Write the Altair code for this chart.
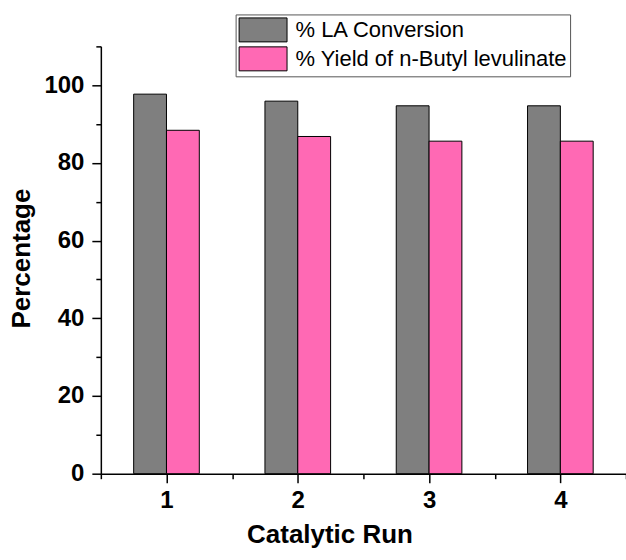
import altair as alt
import pandas as pd

runs = [1, 2, 3, 4]
la_conversion = [97.7, 95.9, 94.7, 94.7]
butyl_yield = [88.4, 86.8, 85.6, 85.6]
series_names = ["% LA Conversion", "% Yield of n-Butyl levulinate"]
series_colors = ["#7f7f7f", "#ff69b4"]
x_tick_values = [0.5, 1, 1.5, 2, 2.5, 3, 3.5, 4, 4.5]
y_tick_values = [0, 10, 20, 30, 40, 50, 60, 70, 80, 90, 100, 110]

rows = []
for r, a, b in zip(runs, la_conversion, butyl_yield):
    rows.append({"Run": r, "Series": series_names[0], "Value": a, "Order": 0})
    rows.append({"Run": r, "Series": series_names[1], "Value": b, "Order": 1})
df = pd.DataFrame(rows)

FONT = "Liberation Sans"
TICK_FONT = "'Liberation Sans Narrow', 'Liberation Sans', Arial, sans-serif"

chart = (
    alt.Chart(df)
    .transform_calculate(
        x0="datum.Run - 0.25 + datum.Order * 0.25",
        x1="datum.Run + datum.Order * 0.25",
    )
    .mark_rect(stroke="black", strokeWidth=1, opacity=1)
    .encode(
        x=alt.X(
            "x0:Q",
            scale=alt.Scale(domain=[0.5, 4.5], nice=False, zero=False),
            axis=alt.Axis(
                title="Catalytic Run",
                values=x_tick_values,
                labelExpr="datum.value % 1 === 0 ? format(datum.value, 'd') : ''",
                tickSize={"condition": {"test": "datum.value % 1 === 0", "value": 9}, "value": 5},
                labelPadding=6,
                titleX=229,
                titleY=69,
                titleBaseline="alphabetic",
                titleAnchor="start",
                titleAlign="center",
            ),
        ),
        x2="x1:Q",
        y=alt.Y(
            "Value:Q",
            scale=alt.Scale(domain=[0, 110], nice=False),
            axis=alt.Axis(
                title="Percentage",
                values=y_tick_values,
                labelExpr="datum.value % 20 === 0 ? format(datum.value, 'd') : ''",
                tickSize={"condition": {"test": "datum.value % 20 === 0", "value": 9}, "value": 5},
                labelPadding=8,
                titleX=-79,
                titleY=212,
                titleAngle=-90,
                titleAlign="center",
                titleBaseline="middle",
            ),
        ),
        y2=alt.datum(0),
        color=alt.Color(
            "Series:N",
            scale=alt.Scale(domain=series_names, range=series_colors),
            legend=alt.Legend(
                title=None,
                orient="none",
                legendX=135,
                legendY=-32,
                symbolType="M-2,-1H2V1H-2Z",
                symbolSize=576,
                symbolOffset=12,
                symbolStrokeColor="black",
                symbolStrokeWidth=1,
                symbolOpacity=1,
                labelFont=FONT,
                labelFontSize=22,
                labelColor="black",
                labelOffset=20,
                labelLimit=400,
                rowPadding=0,
                padding=3,
                strokeColor="#555555",
                fillColor="white",
                cornerRadius=0,
            ),
        ),
    )
    .properties(
        width=526,
        height=428,
        autosize=alt.AutoSizeParams(type="none"),
        padding={"left": 101, "top": 46, "right": 0, "bottom": 86},
    )
    .configure_view(strokeWidth=0)
    .configure_axis(
        grid=False,
        domainColor="black",
        domainWidth=1.5,
        tickColor="black",
        tickWidth=1.5,
        labelFont=TICK_FONT,
        labelFontSize=24,
        labelFontWeight="bold",
        labelColor="black",
        titleFont=FONT,
        titleFontSize=26,
        titleFontWeight="bold",
        titleColor="black",
    )
)

chart.save("out.html", embed_options={"renderer": "svg", "actions": False})
